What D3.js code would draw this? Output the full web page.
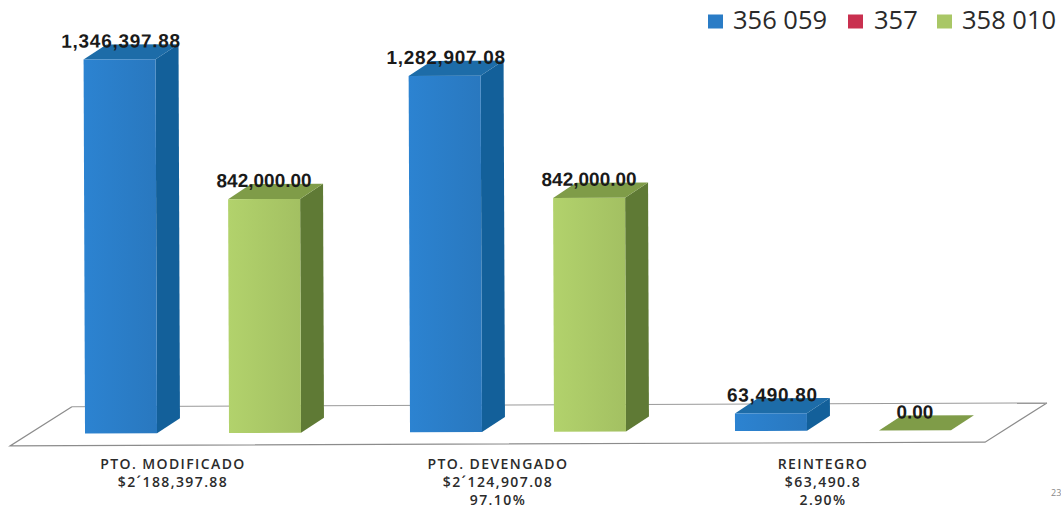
<!DOCTYPE html>
<html>
<head>
<meta charset="utf-8">
<script src="https://cdnjs.cloudflare.com/ajax/libs/d3/7.8.5/d3.min.js"></script>
<style>
  html, body { margin: 0; padding: 0; background: #fff; }
  svg { display: block; }
  text { font-family: "Open Sans", sans-serif; }
</style>
</head>
<body>
<div id="chart"></div>
<script>
var categories = ["PTO. MODIFICADO", "PTO. DEVENGADO", "REINTEGRO"];
var categoryLines = [
    ["$2\u00b4188,397.88"],
    ["$2\u00b4124,907.08", "97.10%"],
    ["$63,490.8", "2.90%"]
];
var seriesNames = ["356 059", "357", "358 010"];
var values356 = [1346397.88, 1282907.08, 63490.80];
var values357 = [null, null, null];
var values358 = [842000.00, 842000.00, 0.00];
var seriesValues = [values356, values357, values358];

var frontColors = ["#2a7cc6", "#c9304f", "#a9c766"];
var sideColors  = ["#13609a", "#8e2238", "#5f7a35"];
var topColors   = ["#1d6ca8", "#a5283f", "#7f9c48"];

var width = 1061, height = 510;
var baseY = 432;            // front edge of the bars
var depthX = 23, depthY = -15;

var x0 = d3.scaleBand()
    .domain(categories)
    .range([85, 1060])
    .paddingInner(0);

var x1 = d3.scaleBand()
    .domain(seriesNames)
    .range([0, 216]);

var y = d3.scaleLinear()
    .domain([0, 1346397.88])
    .range([baseY, 58]);

var svg = d3.select("#chart")
    .append("svg")
    .attr("width", width)
    .attr("height", height);

var defs = svg.append("defs");
frontColors.forEach(function(c, i) {
    var g = defs.append("linearGradient").attr("id", "front" + i)
        .attr("x1", 0).attr("x2", 1).attr("y1", 0).attr("y2", 0);
    g.append("stop").attr("offset", "0%").attr("stop-color", d3.rgb(c).brighter(0.15));
    g.append("stop").attr("offset", "100%").attr("stop-color", d3.rgb(c).darker(0.1));
});

// scanned page is a bit crooked
var plot = svg.append("g").attr("transform", "rotate(-0.22 500 430)");

// floor
var floorLine = d3.line();
plot.append("path")
    .attr("d", floorLine([[72, 405], [10, 444], [985, 444], [1047, 405]]))
    .attr("fill", "none")
    .attr("stroke", "#8c8c8c")
    .attr("stroke-width", 1.2);
plot.append("path")
    .attr("d", floorLine([[72, 405], [1047, 405]]))
    .attr("fill", "none")
    .attr("stroke", "#9a9a9a")
    .attr("stroke-width", 1);

// bars
seriesValues.forEach(function(vals, s) {
    var name = seriesNames[s];
    var barW = x1.bandwidth();
    var g = plot.append("g").attr("class", "series-" + s);
    var rows = vals.map(function(v, i) { return {v: v, cat: categories[i]}; })
        .filter(function(d) { return d.v !== null; });

    var bar = g.selectAll("g").data(rows).enter().append("g");

    bar.append("path")   // side
        .attr("fill", sideColors[s])
        .attr("d", function(d) {
            var r = x0(d.cat) + x1(name) + barW, t = y(d.v);
            return floorLine([[r, baseY], [r + depthX, baseY + depthY], [r + depthX, t + depthY], [r, t]]) + "Z";
        });
    bar.append("path")   // top
        .attr("fill", topColors[s])
        .attr("d", function(d) {
            var l = x0(d.cat) + x1(name), r = l + barW, t = y(d.v);
            return floorLine([[l, t], [l + depthX, t + depthY], [r + depthX, t + depthY], [r, t]]) + "Z";
        });
    bar.append("rect")   // front
        .attr("x", function(d) { return x0(d.cat) + x1(name); })
        .attr("y", function(d) { return y(d.v); })
        .attr("width", barW)
        .attr("height", function(d) { return baseY - y(d.v); })
        .attr("fill", "url(#front" + s + ")");

    bar.append("text")
        .attr("x", function(d) { return x0(d.cat) + x1(name) + barW / 2 + (s == 0 ? 1.5 : 0); })
        .attr("y", function(d) { return y(d.v) + depthY + 3; })
        .attr("text-anchor", "middle")
        .style("font-family", "'Liberation Sans', sans-serif")
        .attr("font-size", 19)
        .attr("font-weight", 700)
        .attr("letter-spacing", s == 0 ? 0.7 : 0)
        .attr("fill", "#1a1a1a")
        .text(function(d) { return d3.format(",.2f")(d.v); });
});

// category labels
var labelG = svg.append("g").selectAll("text")
    .data(categories)
    .enter().append("text")
    .attr("text-anchor", "middle")
    .attr("font-size", 14)
    .attr("font-weight", 600)
    .attr("letter-spacing", 1.4)
    .attr("fill", "#2b2b2b")
    .attr("x", function(d) { return x0(d) + 88; })
    .attr("y", 469);

labelG.each(function(d, i) {
    var t = d3.select(this);
    var cx = x0(d) + 88;
    [d].concat(categoryLines[i]).forEach(function(line, k) {
        t.append("tspan")
            .attr("x", cx)
            .attr("y", 469 + k * 18)
            .text(line);
    });
});

// legend
var legendX = [708, 848, 937];
var legendTextX = [733, 874, 962];
seriesNames.forEach(function(n, i) {
    svg.append("rect")
        .attr("x", legendX[i])
        .attr("y", 14.5)
        .attr("width", 15)
        .attr("height", 14)
        .attr("fill", frontColors[i]);
    svg.append("text")
        .attr("x", legendTextX[i])
        .attr("y", 29)
        .attr("font-size", 25.5)
        .attr("fill", "#2a2a2a")
        .text(n);
});

svg.append("text")
    .attr("x", 1051)
    .attr("y", 496)
    .attr("font-size", 9)
    .attr("fill", "#888")
    .text("23");
</script>
</body>
</html>
